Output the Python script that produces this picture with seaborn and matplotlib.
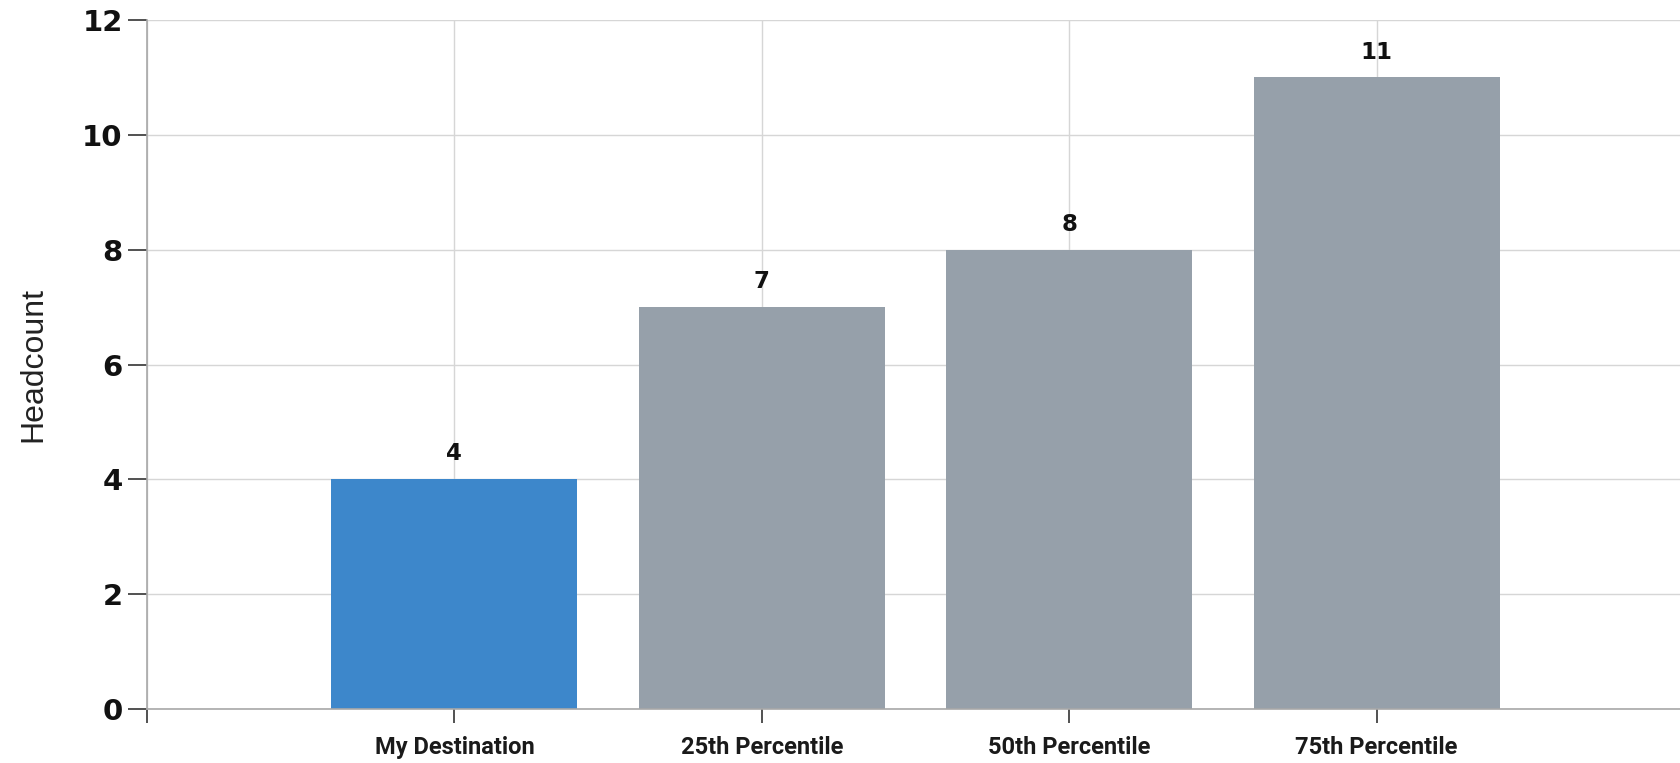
import matplotlib
matplotlib.use("Agg")
import matplotlib.pyplot as plt
import seaborn as sns
import pandas as pd

categories = ["My Destination", "25th Percentile", "50th Percentile", "75th Percentile"]
values = [4, 7, 8, 11]
bar_colors = ["#3d87cb", "#96a0aa", "#96a0aa", "#96a0aa"]
y_ticks = [0, 2, 4, 6, 8, 10, 12]
y_label = "Headcount"

sns.set_theme(style="white")
plt.rcParams["font.family"] = ["DejaVu Sans"]

df = pd.DataFrame({"category": categories, "value": values})

fig = plt.figure(figsize=(16.8, 7.63), dpi=100)
ax = fig.add_axes([147 / 1680, 54 / 763, 1537 / 1680, 689 / 763])

sns.barplot(data=df, x="category", y="value", hue="category",
            palette=dict(zip(categories, bar_colors)), legend=False,
            width=0.8, saturation=1, linewidth=0, ax=ax, zorder=2)

ax.set_xlim(-1, 4)
ax.set_ylim(0, 12)
ax.set_yticks(y_ticks)
ax.set_yticklabels([str(v) for v in y_ticks], fontsize=21, fontweight="bold",
                   family="DejaVu Sans", color="#111111")
ax.set_xticks([-1, 0, 1, 2, 3, 4])
ax.set_xticklabels([""] + categories + [""], fontsize=17, fontweight="bold",
                   family=["Roboto", "DejaVu Sans"], color="#1a1a1a")

ax.grid(True, axis="both", color="#d6d6d6", linewidth=1.0, zorder=0)
ax.set_axisbelow(True)

for side in ["top", "right"]:
    ax.spines[side].set_visible(False)
for side in ["left", "bottom"]:
    ax.spines[side].set_color("#a8a8a8")
    ax.spines[side].set_linewidth(1.2)

ax.tick_params(axis="y", which="major", direction="out", length=14, width=1.2,
               color="#333333", pad=3.5, left=True)
ax.tick_params(axis="x", which="major", direction="out", length=10, width=1.2,
               color="#333333", pad=9.5, bottom=True)

for container in ax.containers:
    ax.bar_label(container, fmt="%d", padding=10, fontsize=16.5, fontweight="bold",
                 color="#111111")

ax.set_xlabel("")
ax.set_ylabel(y_label, fontsize=23, family="Liberation Sans", color="#222222")
ax.yaxis.set_label_coords(-0.064, 0.5)

fig.savefig("out.png", dpi=100)
